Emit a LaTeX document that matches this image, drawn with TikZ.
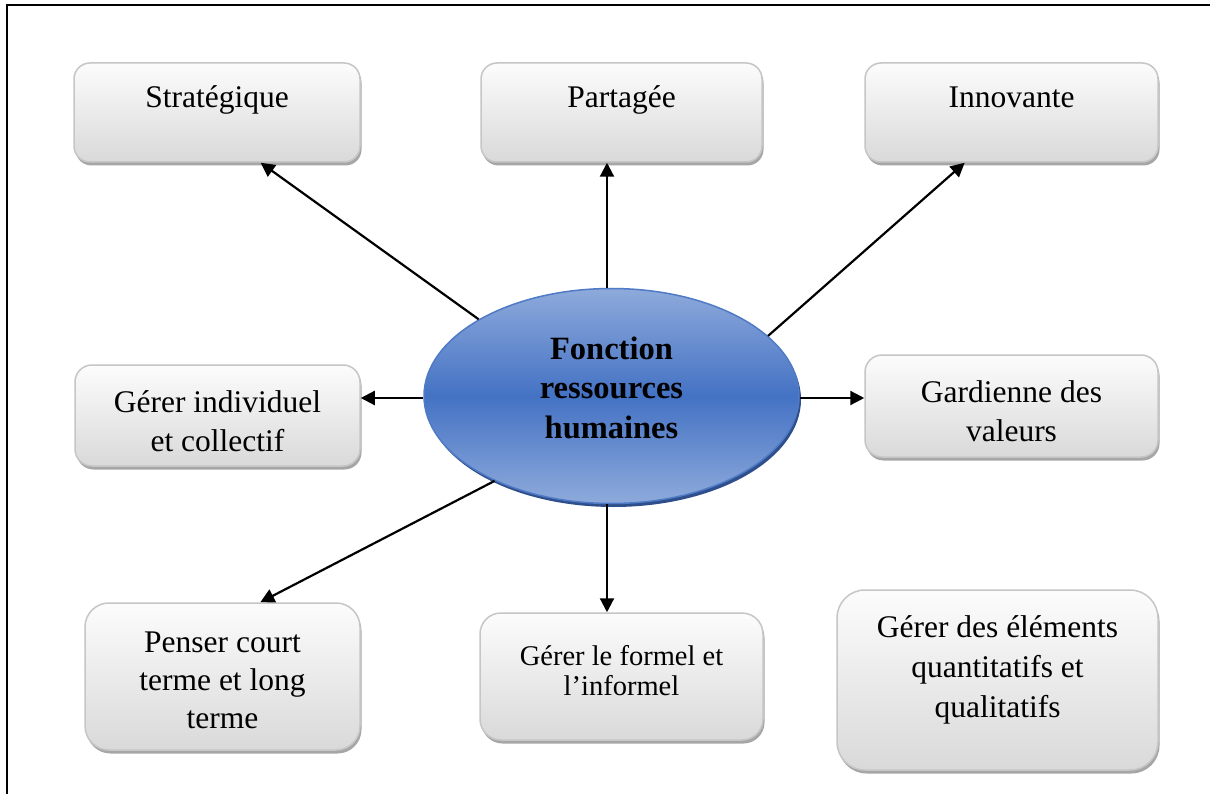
\documentclass[tikz,border=0pt]{standalone}
\usepackage{fontspec}
\setmainfont{Liberation Serif}
\usetikzlibrary{shapes.geometric,shadows,arrows.meta}

\definecolor{boxline}{HTML}{C6C6C6}
\definecolor{boxtop}{HTML}{FCFCFC}
\definecolor{boxbot}{HTML}{D9D9D9}
\definecolor{boxshadow}{HTML}{A6A6A6}
\definecolor{ovallight}{HTML}{8EAADB}
\definecolor{ovalmid}{HTML}{4472C4}
\definecolor{ovalline}{HTML}{4F7AC6}
\definecolor{ovalshadow}{HTML}{2F4F8C}

\tikzset{
  card/.style={rectangle, draw=boxline, line width=1.5pt,
    top color=boxtop, bottom color=boxbot, inner sep=0pt,
    drop shadow={shadow xshift=1.5pt, shadow yshift=-3.5pt,
                 fill=boxshadow, opacity=1}},
  txt/.style={anchor=base, inner sep=0pt,
    font=\fontsize{31.5}{39}\selectfont},
  arr/.style={line width=2.2pt, -{Triangle[length=14pt,width=14pt]}},
}
\newcommand{\lines}[1]{\begin{tabular}[t]{@{}c@{}}#1\end{tabular}}

\begin{document}
\begin{tikzpicture}[x=1pt, y=-1pt]
% white page
\fill[white] (0,0) rectangle (1210,794);
\useasboundingbox (0,0) rectangle (1210,794);

% outer frame (only its top and left sides fall inside the page)
\draw[line width=2pt] (6.5,794) -- (6.5,5) -- (1210,5);

% central oval
\node[ellipse, minimum width=375pt, minimum height=215pt, inner sep=0pt,
      draw=ovalline, line width=1.5pt,
      top color=ovallight, bottom color=ovallight, middle color=ovalmid,
      drop shadow={shadow xshift=2pt, shadow yshift=-3.5pt,
                   fill=ovalshadow, opacity=1}]
      (fonc) at (611.5,396) {};
\node[txt, font=\fontsize{32.5}{39.5}\selectfont\bfseries] (fonctxt) at (611.5,359)
      {\lines{Fonction\\ressources\\humaines}};

% surrounding boxes
\node[card, minimum width=286pt, minimum height=99pt, rounded corners=16pt] (strat) at (217,112.5) {};
\node[card, minimum width=281pt, minimum height=99pt, rounded corners=16pt] (part) at (621.5,112.5) {};
\node[card, minimum width=293pt, minimum height=99pt, rounded corners=16pt] (innov) at (1011.5,112.5) {};
\node[card, minimum width=285pt, minimum height=101pt, rounded corners=17pt] (indiv) at (217.5,415.5) {};
\node[card, minimum width=293pt, minimum height=102pt, rounded corners=17pt] (gard) at (1011.5,406) {};
\node[card, minimum width=275pt, minimum height=147pt, rounded corners=24pt] (penser) at (222.5,676.5) {};
\node[card, minimum width=283pt, minimum height=127pt, rounded corners=21pt] (formel) at (621.5,676.5) {};
\node[card, minimum width=321pt, minimum height=180pt, rounded corners=28pt] (elem) at (997.5,680) {};

% box texts
\node[txt] (strattxt) at (217,108) {Stratégique};
\node[txt] (parttxt) at (621.5,108) {Partagée};
\node[txt] (innovtxt) at (1011.5,108) {Innovante};
\node[txt] (indivtxt) at (217.5,412) {\lines{Gérer individuel\\et collectif}};
\node[txt] (gardtxt) at (1011.5,402) {\lines{Gardienne des\\valeurs}};
\node[txt, font=\fontsize{31.5}{38}\selectfont] (pensertxt) at (222.5,652) {\lines{Penser court\\terme et long\\terme}};
\node[txt, font=\fontsize{28.5}{30.5}\selectfont] (formeltxt) at (621.5,665) {\lines{Gérer le formel et\\l’informel}};
\node[txt, font=\fontsize{31.5}{40}\selectfont] (elemtxt) at (997.5,637) {\lines{Gérer des éléments\\quantitatifs et\\qualitatifs}};

% connectors
\draw[arr] (fonc.150) -- (strat.-49);
\draw[arr] ([xshift=-4.5pt]fonc.north) -- ([xshift=-4.5pt]fonc.north |- part.south);
\draw[arr] (fonc.21.7) -- (innov.-133);
\draw[arr] ([yshift=-2pt]fonc.west) -- ([yshift=-2pt]fonc.west -| indiv.east);
\draw[arr] ([yshift=-2pt]fonc.east) -- ([yshift=-2pt]fonc.east -| gard.west);
\draw[arr] (fonc.216.6) -- (penser.63);
\draw[arr] ([xshift=-4.5pt]fonc.south) -- ([xshift=-4.5pt]fonc.south |- formel.north);
\end{tikzpicture}
\end{document}
